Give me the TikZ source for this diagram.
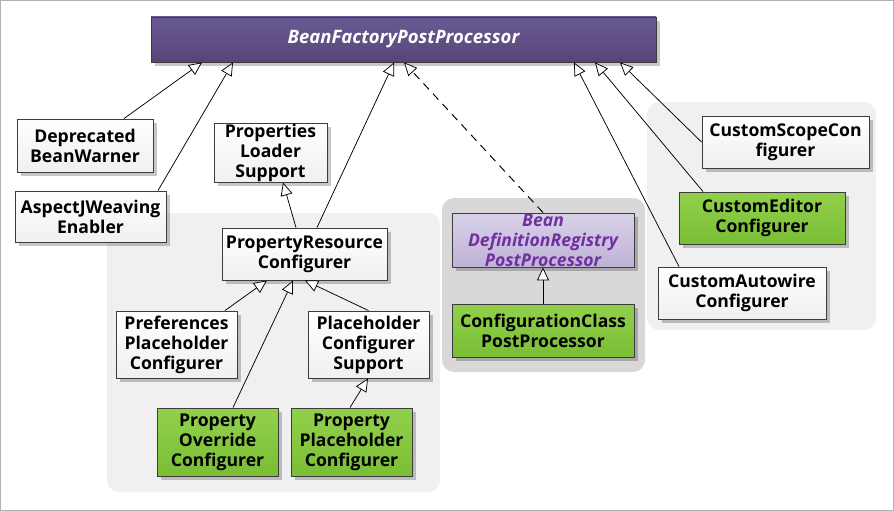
\documentclass[tikz,border=0pt]{standalone}
\usepackage{fontspec}
\setmainfont{Open Sans}
\usetikzlibrary{arrows.meta,shadows,calc}
\definecolor{ptop}{RGB}{106,90,148}
\definecolor{pbot}{RGB}{86,70,118}
\definecolor{gtop}{RGB}{146,208,76}
\definecolor{gbot}{RGB}{122,190,52}
\definecolor{ltop}{RGB}{218,210,234}
\definecolor{lbot}{RGB}{190,178,214}
\definecolor{ptext}{RGB}{112,48,160}
\definecolor{bord}{RGB}{60,60,60}
\definecolor{grpl}{RGB}{240,240,240}
\definecolor{grpd}{RGB}{216,216,216}
\tikzset{
  cls/.style={draw=bord, line width=0.9pt, inner sep=0pt, align=center,
    font=\fontsize{17.6}{20}\selectfont\bfseries,
    drop shadow={shadow xshift=4pt, shadow yshift=-4pt, opacity=0.22, fill=black}},
  wbox/.style={cls, top color=white, bottom color=black!6},
  gbox/.style={cls, top color=gtop, bottom color=gbot},
  lbox/.style={cls, top color=ltop, bottom color=lbot, text=ptext,
    font=\fontsize{17.6}{20}\selectfont\bfseries\itshape},
  pbox/.style={cls, top color=ptop, bottom color=pbot, text=white,
    font=\fontsize{18.5}{20}\selectfont\bfseries\itshape},
  inh/.style={draw=black, line width=0.75pt,
    -{Triangle[length=13pt,width=12pt,fill=white,line width=0.75pt]}},
  grp/.style={rounded corners=12pt}
}
\begin{document}
\begin{tikzpicture}[x=1pt,y=-1pt]
\useasboundingbox (0,0) rectangle (894,511);
\fill[white] (0,0) rectangle (894,511);
\draw[black!30, line width=0.8pt] (0.5,0.5) rectangle (893.5,510.5);
% groups
\fill[grpl, grp] (107,213) rectangle (440,492);
\fill[grpd, grp] (442,198) rectangle (645,372);
\fill[grpl, grp] (647,102) rectangle (876,330);
% nodes
\node[pbox, minimum width=505pt, minimum height=45pt] (top) at (403.5,39.5) {BeanFactoryPostProcessor};
\node[wbox, minimum width=136pt, minimum height=53pt] (dep) at (85,145.5) {Deprecated\\BeanWarner};
\node[wbox, minimum width=151pt, minimum height=51pt] (asp) at (90.5,216.5) {AspectJWeaving\\Enabler};
\node[wbox, minimum width=113pt, minimum height=59pt] (pls) at (270.5,152.5) {Properties\\Loader\\Support};
\node[wbox, minimum width=165pt, minimum height=52pt] (prc) at (304.5,254) {PropertyResource\\Configurer};
\node[wbox, minimum width=121pt, minimum height=67pt] (ppc) at (176.5,344.5) {Preferences\\Placeholder\\Configurer};
\node[wbox, minimum width=121pt, minimum height=67pt] (pcs) at (368.5,344.5) {Placeholder\\Configurer\\Support};
\node[gbox, minimum width=121pt, minimum height=68pt] (poc) at (217.5,442) {Property\\Override\\Configurer};
\node[gbox, minimum width=121pt, minimum height=68pt] (phc) at (351.5,442) {Property\\Placeholder\\Configurer};
\node[lbox, minimum width=182pt, minimum height=54pt] (bdr) at (543,240) {Bean\\DefinitionRegistry\\PostProcessor};
\node[gbox, minimum width=182pt, minimum height=53pt] (ccp) at (543,330.5) {ConfigurationClass\\PostProcessor};
\node[wbox, minimum width=167pt, minimum height=52pt] (csc) at (785.5,142) {CustomScopeCon\\figurer};
\node[gbox, minimum width=166pt, minimum height=52pt] (ced) at (762,218) {CustomEditor\\Configurer};
\node[wbox, minimum width=168pt, minimum height=52pt] (caw) at (742,293) {CustomAutowire\\Configurer};
% connectors
\draw[inh] ($(dep.north)+(39,0)$) -- ($(top.south)+(-201.5,0)$);
\draw[inh] ($(asp.north)+(67.5,0)$) -- ($(top.south)+(-170.5,0)$);
\draw[inh] ($(prc.north)+(12.5,0)$) -- ($(top.south)+(-9.5,0)$);
\draw[inh, line width=0.95pt, dash pattern=on 8pt off 6pt] (bdr.north) -- ($(top.south)+(0.5,0)$);
\draw[inh] ($(caw.north)+(-63,0)$) -- ($(top.south)+(170.5,0)$);
\draw[inh] ($(ced.north)+(-59,0)$) -- ($(top.south)+(191.5,0)$);
\draw[inh] (csc.west) -- ($(top.south)+(216.5,0)$);
\draw[inh] ($(prc.north)+(-8.5,0)$) -- ($(pls.south)+(12.5,0)$);
\draw[inh] ($(ppc.north)+(48.5,0)$) -- ($(prc.south)+(-37.5,0)$);
\draw[inh] ($(poc.north)+(15.5,0)$) -- ($(prc.south)+(-11.5,0)$);
\draw[inh] (pcs.north) -- ($(prc.south)+(0.5,0)$);
\draw[inh] ($(phc.north)+(-1.5,0)$) -- ($(pcs.south)+(-0.5,0)$);
\draw[inh] (ccp.north) -- (bdr.south);
\end{tikzpicture}
\end{document}
